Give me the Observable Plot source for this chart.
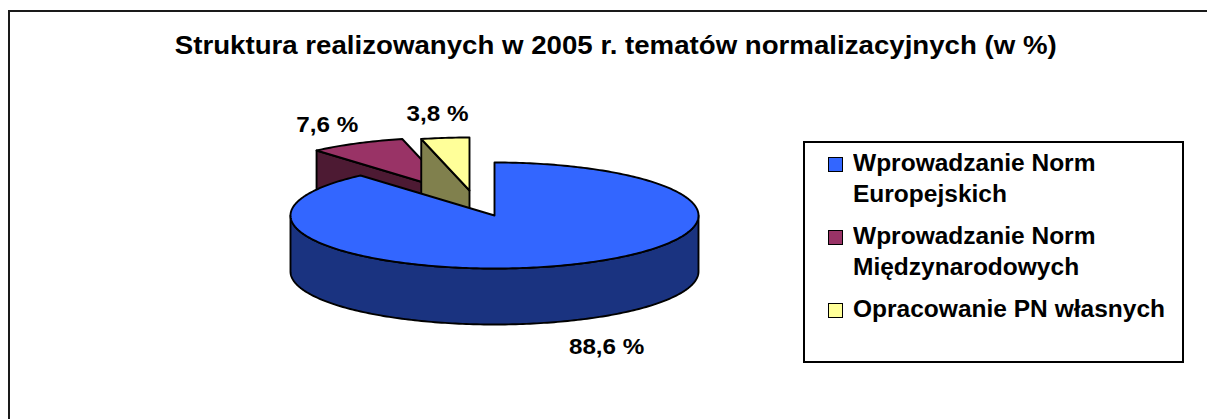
<!DOCTYPE html>
<html><head><meta charset="utf-8">
<script src="https://cdn.jsdelivr.net/npm/d3@7"></script>
<script src="https://cdn.jsdelivr.net/npm/@observablehq/plot@0.6"></script>
<style>
html,body{margin:0;padding:0;background:#fff;overflow:hidden;}
#wrap{position:relative;width:1207px;height:419px;overflow:hidden;font-family:"Liberation Sans",Arial,sans-serif;color:#000;}
#chart{position:absolute;left:0;top:0;}
#frame{position:absolute;left:8px;top:10px;width:1400px;height:700px;border:2px solid #1a1a1a;}
#title{position:absolute;left:0;top:33px;width:1232px;text-align:center;font-size:25px;line-height:25px;font-weight:bold;white-space:nowrap;}
#title span{display:inline-block;transform-origin:50% 50%;}
#legend{position:absolute;left:803px;top:141px;width:381px;height:222px;box-sizing:border-box;border:2px solid #000;padding:5px 0 0 23px;background:#fff;}
.item{display:flex;align-items:flex-start;margin-bottom:11px;}
.sw{width:13px;height:13px;border:1px solid #000;margin-top:9px;flex:none;}
.lt{margin-left:10px;width:300px;font-size:23px;line-height:31px;font-weight:bold;transform-origin:0 0;}
</style></head><body>
<div id="wrap"><div id="chart"></div><div id="frame"></div><div id="title"><span></span></div><div id="legend"></div></div>
<script>
// ---- data ----
const titleText = "Struktura realizowanych w 2005 r. tematów normalizacyjnych (w %)";
const categories = ["Wprowadzanie Norm Europejskich", "Wprowadzanie Norm Międzynarodowych", "Opracowanie PN własnych"];
const values = [88.6, 7.6, 3.8];
const valueLabels = ["88,6 %", "7,6 %", "3,8 %"];
const topColors = ["#3366FF", "#993366", "#FFFF99"];
const sideColors = ["#1A3380", "#4D1A33", "#80804D"];

// ---- layout ----
const W = 1207, H = 419;
const pie3d = {cx: 494, cy: 215, rx: 204, ry: 53, depth: 56};
const explode = [[0, 0], [-44, -25], [-25, -25]];
const labelK = 1.4;
const labelNudge = [[12, 6], [8, 0], [2, -3]];
const labelStretch = 1.1;

const arcs = d3.pie().sort(null).startAngle(0).endAngle(2 * Math.PI)(values);
const {cx, cy, rx, ry, depth} = pie3d;
const P = (a, ox, oy, dz) => ({x: cx + ox + rx * Math.sin(a), y: cy + oy - ry * Math.cos(a) + dz});
const arcPts = (a0, a1, ox, oy, dz) => {
  const n = Math.max(2, Math.ceil(Math.abs(a1 - a0) / (Math.PI / 180)));
  return d3.range(n + 1).map(k => P(a0 + (a1 - a0) * k / n, ox, oy, dz));
};

const order = d3.range(values.length).sort((i, j) => explode[i][1] - explode[j][1] || i - j);
const faces = [];
for (const i of order) {
  const {startAngle: a0, endAngle: a1} = arcs[i];
  const [ox, oy] = explode[i];
  const apexT = {x: cx + ox, y: cy + oy}, apexB = {x: cx + ox, y: cy + oy + depth};
  if (Math.sin(a0) < -1e-6) faces.push({fill: sideColors[i], pts: [apexT, P(a0, ox, oy, 0), P(a0, ox, oy, depth), apexB]});
  if (Math.sin(a1) > 1e-6) faces.push({fill: sideColors[i], pts: [apexT, P(a1, ox, oy, 0), P(a1, ox, oy, depth), apexB]});
  const lo = Math.max(a0, Math.PI / 2), hi = Math.min(a1, 3 * Math.PI / 2);
  if (hi > lo) faces.push({fill: sideColors[i], pts: [...arcPts(lo, hi, ox, oy, 0), ...arcPts(hi, lo, ox, oy, depth)]});
  faces.push({fill: topColors[i], pts: [apexT, ...arcPts(a0, a1, ox, oy, 0)]});
}

const labelData = arcs.map((d, i) => {
  const m = (d.startAngle + d.endAngle) / 2;
  const front = Math.cos(m) < 0;
  return {
    text: valueLabels[i],
    x: cx + explode[i][0] + rx * labelK * Math.sin(m) + labelNudge[i][0],
    y: cy + explode[i][1] - ry * labelK * Math.cos(m) + (front ? depth : 0) + labelNudge[i][1]
  };
});

const chart = Plot.plot({
  width: W, height: H, margin: 0,
  style: {background: "transparent"},
  x: {domain: [0, W], range: [0, W], axis: null},
  y: {domain: [0, H], range: [0, H], axis: null},
  marks: [
    ...faces.map(f => Plot.line(f.pts, {x: "x", y: "y", fill: f.fill, stroke: "#000", strokeWidth: 1.9, strokeLinejoin: "round", curve: "linear-closed"})),
    Plot.text(labelData, {x: "x", y: "y", text: "text", fontSize: 22, fontWeight: "bold", fontFamily: "Liberation Sans, Arial, sans-serif", fill: "#000"})
  ]
});
document.getElementById("chart").appendChild(chart);
chart.querySelectorAll("g[aria-label='text'] text").forEach(t => {
  const w = t.getComputedTextLength();
  t.setAttribute("textLength", (w * labelStretch).toFixed(1));
  t.setAttribute("lengthAdjust", "spacingAndGlyphs");
});

// title
const ts = document.querySelector("#title span");
ts.textContent = titleText;
ts.style.transform = `scaleX(${882 / ts.getBoundingClientRect().width})`;

// legend
const legend = d3.select("#legend");
categories.forEach((c, i) => {
  const row = legend.append("div").attr("class", "item");
  row.append("div").attr("class", "sw").style("background", topColors[i]);
  row.append("div").attr("class", "lt").append("span").text(c);
});
const spans = document.querySelectorAll("#legend .lt span");
const s = 312 / spans[spans.length - 1].getBoundingClientRect().width;
document.querySelectorAll("#legend .lt").forEach(el => el.style.transform = `scaleX(${s})`);
</script>
</body></html>
